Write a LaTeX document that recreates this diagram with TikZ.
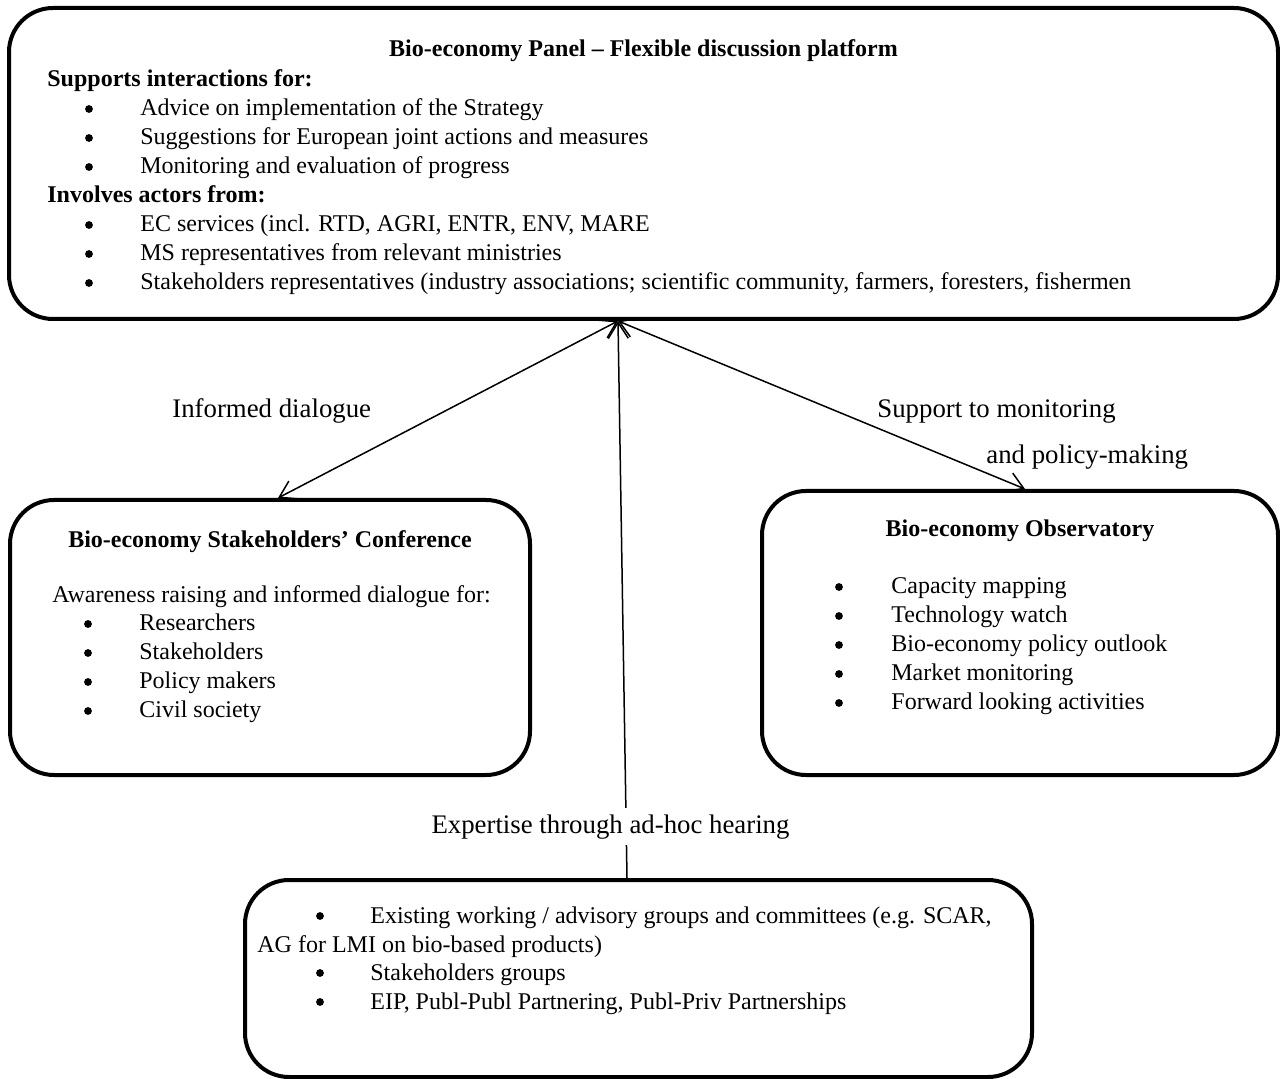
\documentclass[tikz,border=0pt]{standalone}
\usepackage{fontspec}
\setmainfont{Liberation Serif}
\usetikzlibrary{arrows.meta,fit}
\tikzset{
  box/.style={draw, line width=2pt, rounded corners=22pt, inner sep=0pt},
  txt/.style={anchor=base west, inner sep=0pt},
  lbl/.style={anchor=base west, inner sep=0pt, font=\fontsize{13.4}{16}\selectfont},
  hd/.style={anchor=base, inner sep=0pt, font=\fontsize{12}{14.5}\selectfont\bfseries},
  bhd/.style={anchor=base west, inner sep=0pt, font=\fontsize{12}{14.5}\selectfont\bfseries},
  bul/.style={circle, fill=black, inner sep=0pt, minimum size=3.9pt},
  link/.style={line width=0.75pt},
}
\begin{document}
\begin{tikzpicture}[x=0.5pt,y=-0.5pt,font=\fontsize{12}{14.5}\selectfont]
\useasboundingbox (0,0) rectangle (1280,1079);
% boxes
\node[box, fit={(9,8) (1278,319)}] (panel) {};
\node[box, fit={(10,500) (530,775)}] (conf) {};
\node[box, fit={(762,491) (1278,775)}] (obs) {};
\node[box, fit={(245,880) (1032,1077)}] (expert) {};
% connector anchor positions
\coordinate (hx) at (618,0);
\coordinate (lx) at (278,0);
\coordinate (rx) at (1025,0);
\coordinate (mx) at (627,0);
% connectors
\draw[link, {Straight Barb[length=8pt,width=10pt]}-{Straight Barb[length=8pt,width=10pt]}] (conf.north -| lx) -- (hx |- panel.south);
\draw[link, {Straight Barb[length=8pt,width=10pt]}-{Straight Barb[length=8pt,width=10pt]}] (obs.north -| rx) -- (hx |- panel.south);
\draw[link, -{Straight Barb[length=8pt,width=10pt]}] (expert.north -| mx) -- (hx |- panel.south);
% panel text
\node[hd] (pt) at (643.5,57) {Bio-economy Panel – Flexible discussion platform};
\node[bhd] (ps) at (47,87) {Supports interactions for:};
\node[bul] (pb1) at (89,109) {};
\node[txt] (p1) at (140,116) {Advice on implementation of the Strategy};
\node[bul] (pb2) at (89,138) {};
\node[txt] (p2) at (140,145) {Suggestions for European joint actions and measures};
\node[bul] (pb3) at (89,167) {};
\node[txt] (p3) at (140,174) {Monitoring and evaluation of progress};
\node[bhd] (pi) at (47,203) {Involves actors from:};
\node[bul] (pb4) at (89,225) {};
\node[txt] (p4) at (140,232) {EC services (incl. RTD, AGRI, ENTR, ENV, MARE};
\node[bul] (pb5) at (89,254) {};
\node[txt] (p5) at (140,261) {MS representatives from relevant ministries};
\node[bul] (pb6) at (89,283) {};
\node[txt] (p6) at (140,290) {Stakeholders representatives (industry associations; scientific community, farmers, foresters, fishermen};
% conference text
\node[hd] (ct) at (270,548) {Bio-economy Stakeholders’ Conference};
\node[txt] (ca) at (52,603) {Awareness raising and informed dialogue for:};
\node[bul] (cb1) at (88,624) {};
\node[txt] (c1) at (139,631) {Researchers};
\node[bul] (cb2) at (88,653) {};
\node[txt] (c2) at (139,660) {Stakeholders};
\node[bul] (cb3) at (88,682) {};
\node[txt] (c3) at (139,689) {Policy makers};
\node[bul] (cb4) at (88,711) {};
\node[txt] (c4) at (139,718) {Civil society};
% observatory text
\node[hd] (ot) at (1020,537) {Bio-economy Observatory};
\node[bul] (ob1) at (839,587) {};
\node[txt] (o1) at (891,594) {Capacity mapping};
\node[bul] (ob2) at (839,616) {};
\node[txt] (o2) at (891,623) {Technology watch};
\node[bul] (ob3) at (839,645) {};
\node[txt] (o3) at (891,652) {Bio-economy policy outlook};
\node[bul] (ob4) at (839,674) {};
\node[txt] (o4) at (891,681) {Market monitoring};
\node[bul] (ob5) at (839,703) {};
\node[txt] (o5) at (891,710) {Forward looking activities};
% expert groups text
\node[bul] (eb1) at (320,916) {};
\node[txt] (e1) at (370,923) {Existing working / advisory groups and committees (e.g. SCAR,};
\node[txt] (e1b) at (257,952) {AG for LMI on bio-based products)};
\node[bul] (eb2) at (320,973) {};
\node[txt] (e2) at (370,980) {Stakeholders groups};
\node[bul] (eb3) at (320,1002) {};
\node[txt] (e3) at (370,1009) {EIP, Publ-Publ Partnering, Publ-Priv Partnerships};
% connector labels
\node[lbl] (l1) at (172,418) {Informed dialogue};
\node[lbl] (l2) at (877,418) {Support to monitoring};
\node[lbl] (l3) at (986,464) {and policy-making};
\node[lbl, anchor=base, fill=white, inner xsep=3pt, inner ysep=3pt] (l4) at (610.5,833) {Expertise through ad-hoc hearing};
\end{tikzpicture}
\end{document}
